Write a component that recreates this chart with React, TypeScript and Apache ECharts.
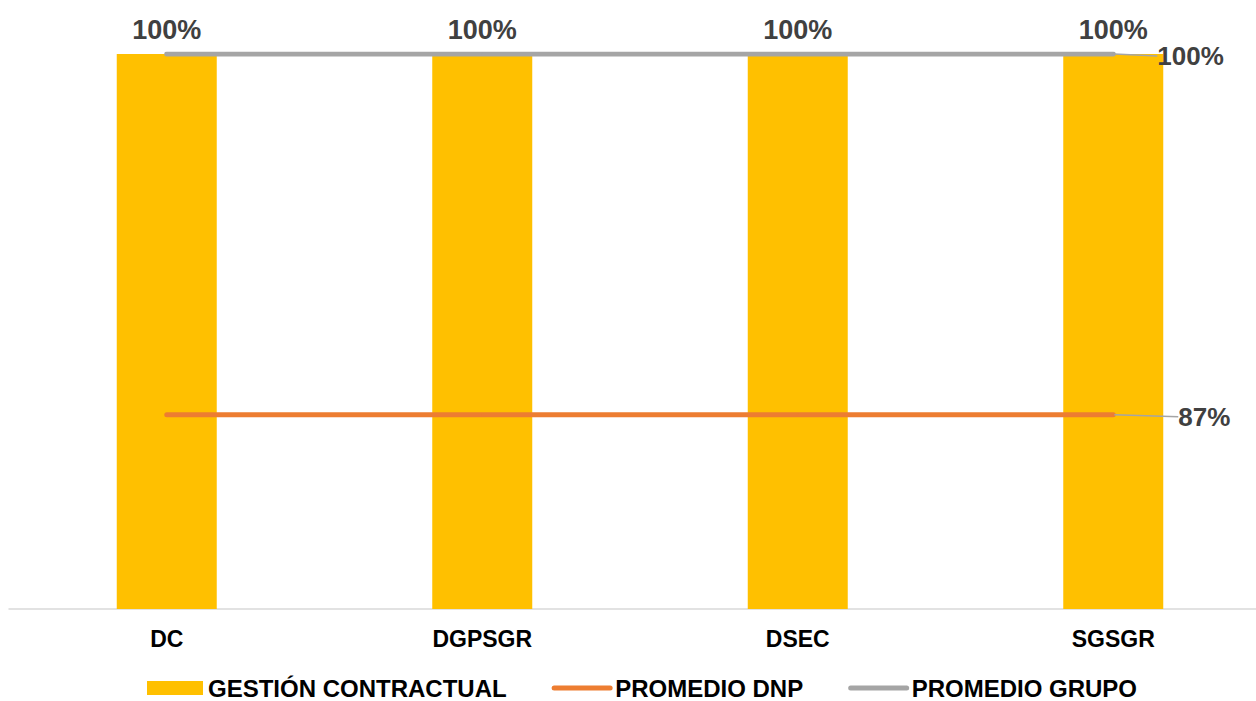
import React, { useEffect, useRef } from "react";
import * as echarts from "echarts";

const categories = ["DC", "DGPSGR", "DSEC", "SGSGR"];
const gestionContractual = [100, 100, 100, 100];
const promedioDnp = [87, 87, 87, 87];
const promedioGrupo = [100, 100, 100, 100];

const FONT = '"Liberation Sans", Arial, sans-serif';
const YELLOW = "#FFC000";
const ORANGE = "#ED7D31";
const GRAY = "#A5A5A5";
const LABEL = "#404040";

// Only the last point of each average line carries a label, pulled off to the right with a guide line.
function withEndLabel(values: number[]) {
  return values.map((v, i) =>
    i === values.length - 1
      ? {
          value: v,
          label: {
            show: true,
            position: "right",
            distance: 0,
            padding: [0, 0, 0, 10],
            formatter: "{c}%",
            color: LABEL,
            fontFamily: FONT,
            fontWeight: "bold",
            fontSize: 26,
          },
        }
      : v
  );
}

export default function App() {
  const ref = useRef<HTMLDivElement>(null);

  useEffect(() => {
    if (!ref.current) return;
    const chart = echarts.init(ref.current, undefined, { renderer: "svg" });
    chart.setOption({
      animation: false,
      backgroundColor: "#ffffff",
      grid: {
        left: 9,
        top: 54,
        width: 1262,
        height: 555,
        containLabel: false,
        outerBoundsMode: "none",
      },
      xAxis: {
        type: "category",
        data: categories,
        axisLine: { show: true, lineStyle: { color: "#D9D9D9", width: 1.5 } },
        axisTick: { show: false },
        axisLabel: {
          color: "#000000",
          fontFamily: FONT,
          fontWeight: "bold",
          fontSize: 23,
          margin: 18,
        },
      },
      yAxis: {
        type: "value",
        min: 80,
        max: 100,
        show: false,
        splitLine: { show: false },
      },
      legend: {
        left: 147,
        top: 676,
        padding: 0,
        itemWidth: 56,
        itemHeight: 14,
        itemGap: 45,
        textStyle: {
          color: "#000000",
          fontFamily: FONT,
          fontWeight: "bold",
          fontSize: 24,
        },
        data: [
          { name: "GESTIÓN CONTRACTUAL", icon: "rect" },
          {
            name: "PROMEDIO DNP",
            itemStyle: { opacity: 0 },
            lineStyle: { color: ORANGE, width: 5, cap: "round" },
          },
          {
            name: "PROMEDIO GRUPO",
            itemStyle: { opacity: 0 },
            lineStyle: { color: GRAY, width: 5, cap: "round" },
          },
        ],
      },
      series: [
        {
          name: "GESTIÓN CONTRACTUAL",
          type: "bar",
          data: gestionContractual,
          barWidth: 100,
          itemStyle: { color: YELLOW },
          label: {
            show: true,
            position: "top",
            distance: 11,
            formatter: "{c}%",
            color: LABEL,
            fontFamily: FONT,
            fontWeight: "bold",
            fontSize: 27,
          },
          z: 2,
        },
        {
          name: "PROMEDIO DNP",
          type: "line",
          data: withEndLabel(promedioDnp),
          symbol: "circle",
          symbolSize: 2,
          showSymbol: true,
          itemStyle: { color: ORANGE },
          lineStyle: { color: ORANGE, width: 5, cap: "round" },
          labelLine: { show: true, lineStyle: { color: GRAY, width: 1.5 } },
          labelLayout: { dx: 54, dy: 2 },
          z: 3,
        },
        {
          name: "PROMEDIO GRUPO",
          type: "line",
          data: withEndLabel(promedioGrupo),
          symbol: "circle",
          symbolSize: 2,
          showSymbol: true,
          itemStyle: { color: GRAY },
          lineStyle: { color: GRAY, width: 5, cap: "round" },
          labelLine: { show: true, lineStyle: { color: GRAY, width: 1.5 } },
          labelLayout: { dx: 33, dy: 2 },
          z: 3,
        },
      ],
    });
    return () => chart.dispose();
  }, []);

  return (
    <div
      ref={ref}
      style={{ position: "fixed", left: 0, top: 0, width: 1256, height: 701, background: "#fff" }}
    />
  );
}
